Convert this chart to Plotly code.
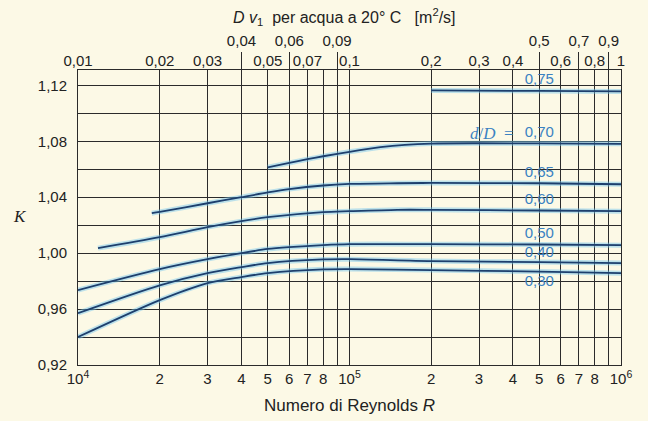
import plotly.graph_objects as go
import numpy as np

# ---- data ----
ratio_labels = ["0,75", "0,70", "0,65", "0,60", "0,50", "0,40", "0,30"]

re_075 = [2e5, 5e5, 1e6]
k_075 = [1.1164, 1.1160, 1.1157]

re_070 = [5e4, 6e4, 7e4, 8e4, 1e5, 1.3e5, 1.6e5, 2e5, 3e5, 5e5, 1e6]
k_070 = [1.0614, 1.0645, 1.0672, 1.0693, 1.0725, 1.0758, 1.0775, 1.0784, 1.0786, 1.0785, 1.0782]

re_065 = [1.87e4, 2e4, 3e4, 4e4, 5e4, 6e4, 8e4, 1e5, 1.5e5, 2e5, 5e5, 1e6]
k_065 = [1.0286, 1.0295, 1.0357, 1.0400, 1.0434, 1.0458, 1.0484, 1.0495, 1.0500, 1.0502, 1.0500, 1.0493]

re_060 = [1.185e4, 2e4, 3e4, 4e4, 5e4, 8e4, 1e5, 1.5e5, 2e5, 5e5, 1e6]
k_060 = [1.0036, 1.0114, 1.0186, 1.0229, 1.0257, 1.0293, 1.0300, 1.0310, 1.0310, 1.0305, 1.0300]

re_050 = [1e4, 2e4, 3e4, 4e4, 5e4, 6e4, 8e4, 1e5, 2e5, 5e5, 1e6]
k_050 = [0.9736, 0.9886, 0.9957, 1.0000, 1.0030, 1.0043, 1.0057, 1.0064, 1.0064, 1.0062, 1.0057]

re_040 = [1e4, 2e4, 3e4, 4e4, 5e4, 8e4, 1e5, 2e5, 5e5, 1e6]
k_040 = [0.9571, 0.9770, 0.9857, 0.9900, 0.9929, 0.9955, 0.9957, 0.9943, 0.9936, 0.9929]

re_030 = [1e4, 2e4, 3e4, 4e4, 5e4, 8e4, 1e5, 2e5, 5e5, 1e6]
k_030 = [0.9400, 0.9664, 0.9786, 0.9829, 0.9857, 0.9884, 0.9886, 0.9879, 0.9868, 0.9857]

label_re = [5e5] * 7
label_k = [1.1236, 1.0857, 1.0571, 1.0379, 1.0136, 1.0000, 0.9793]

# bottom axis ticks (Reynolds number)
re_ticks = [1e4, 2e4, 3e4, 4e4, 5e4, 6e4, 7e4, 8e4, 9e4,
            1e5, 2e5, 3e5, 4e5, 5e5, 6e5, 7e5, 8e5, 9e5, 1e6]
re_ticktext = ["10<sup>4</sup>", "2", "3", "4", "5", "6", "7", "8", "",
               "10<sup>5</sup>", "2", "3", "4", "5", "6", "7", "8", "", "10<sup>6</sup>"]

# top axis ticks (D v1, m2/s) in two rows
dv_row1 = [0.01, 0.02, 0.03, 0.05, 0.07, 0.1, 0.2, 0.3, 0.4, 0.6, 0.8, 1]
dv_row1_text = ["0,01", "0,02", "0,03", "0,05", "0,07", "0,1", "0,2", "0,3", "0,4", "0,6", "0,8", "1"]
dv_row2 = [0.04, 0.06, 0.09, 0.5, 0.7, 0.9]
dv_row2_text = ["0,04", "0,06", "0,09", "0,5", "0,7", "0,9"]

# y axis ticks
k_ticks = [0.92, 0.94, 0.96, 0.98, 1.00, 1.02, 1.04, 1.06, 1.08, 1.10, 1.12]
k_ticktext = ["0,92", "", "0,96", "", "1,00", "", "1,04", "", "1,08", "", "1,12"]

# ---- styling ----
BG = "#fcf9e6"
GRID = "#2b2b2b"
LINE = "#1d3f6d"
HALO = "rgba(110,195,240,0.45)"
LABEL = "#3b82c2"
TXT = "#222222"
SANS = "Liberation Sans, Arial, sans-serif"
SERIF = "Liberation Serif, Times New Roman, serif"

fig = go.Figure()

curves = [(re_075, k_075), (re_070, k_070), (re_065, k_065), (re_060, k_060),
          (re_050, k_050), (re_040, k_040), (re_030, k_030)]
for xs, ys in curves:
    fig.add_trace(go.Scatter(x=xs, y=ys, mode="lines",
                             line=dict(color=HALO, width=5, shape="spline", smoothing=0.8),
                             hoverinfo="skip", showlegend=False))
    fig.add_trace(go.Scatter(x=xs, y=ys, mode="lines",
                             line=dict(color=LINE, width=1.8, shape="spline", smoothing=0.8),
                             showlegend=False))

fig.add_trace(go.Scatter(x=label_re, y=label_k, mode="text", text=ratio_labels,
                         textfont=dict(family=SANS, size=15, color=LABEL),
                         textposition="middle center", showlegend=False, hoverinfo="skip"))

# invisible traces binding top axes
fig.add_trace(go.Scatter(x=[0.01, 1], y=[1.0, 1.0], xaxis="x2", mode="markers",
                         marker=dict(opacity=0), showlegend=False, hoverinfo="skip"))
fig.add_trace(go.Scatter(x=[0.01, 1], y=[1.0, 1.0], xaxis="x3", mode="markers",
                         marker=dict(opacity=0), showlegend=False, hoverinfo="skip"))

fig.update_layout(
    width=648, height=421,
    margin=dict(l=78, r=27, t=70, b=56),
    paper_bgcolor=BG, plot_bgcolor=BG,
    font=dict(family=SANS, size=15, color=TXT),
    xaxis=dict(type="log", range=[4, 6], tickvals=re_ticks, ticktext=re_ticktext,
               showgrid=True, gridcolor=GRID, gridwidth=1,
               showline=True, linecolor=GRID, linewidth=1, mirror=True,
               ticks="", zeroline=False, tickfont=dict(size=15)),
    xaxis2=dict(type="log", range=[-2, 0], overlaying="x", side="top", anchor="y",
                tickvals=dv_row1, ticktext=dv_row1_text, showgrid=False,
                ticks="", showline=False, tickfont=dict(size=15)),
    xaxis3=dict(type="log", range=[-2, 0], overlaying="x", side="top", anchor="y",
                tickvals=dv_row2, ticktext=dv_row2_text, showgrid=False,
                ticks="outside", ticklen=17, tickcolor=GRID, tickwidth=1,
                showline=False, tickfont=dict(size=15)),
    yaxis=dict(range=[0.92, 1.131], tickvals=k_ticks, ticktext=k_ticktext,
               showgrid=True, gridcolor=GRID, gridwidth=1,
               showline=True, linecolor=GRID, linewidth=1, mirror=True,
               ticks="", zeroline=False, ticklabelstandoff=7, tickfont=dict(size=15)),
    annotations=[
        dict(text="<i>D v</i><sub>1</sub>&nbsp; per acqua a 20° C&nbsp;&nbsp; [m<sup>2</sup>/s]",
             xref="paper", yref="paper", x=0.49, y=1.18, xanchor="center", yanchor="middle",
             showarrow=False, font=dict(family=SANS, size=16, color=TXT)),
        dict(text="Numero di Reynolds <i>R</i>", xref="paper", yref="paper",
             x=0.5, y=-0.136, xanchor="center", yanchor="middle", showarrow=False,
             font=dict(family=SANS, size=17, color=TXT)),
        dict(text="<i>K</i>", xref="paper", yref="paper", x=-0.107, y=0.505,
             xanchor="center", yanchor="middle", showarrow=False,
             font=dict(family=SERIF, size=17, color=TXT)),
        dict(text="<i>d</i>/<i>D</i>  =", x=np.log10(4.1e5), y=1.0857, xref="x", yref="y",
             xanchor="right", yanchor="middle", showarrow=False,
             font=dict(family=SERIF, size=17, color=LABEL)),
    ],
)

fig.write_html("out.html", config={"displayModeBar": False},
               post_script="document.body.style.margin='0px';")
